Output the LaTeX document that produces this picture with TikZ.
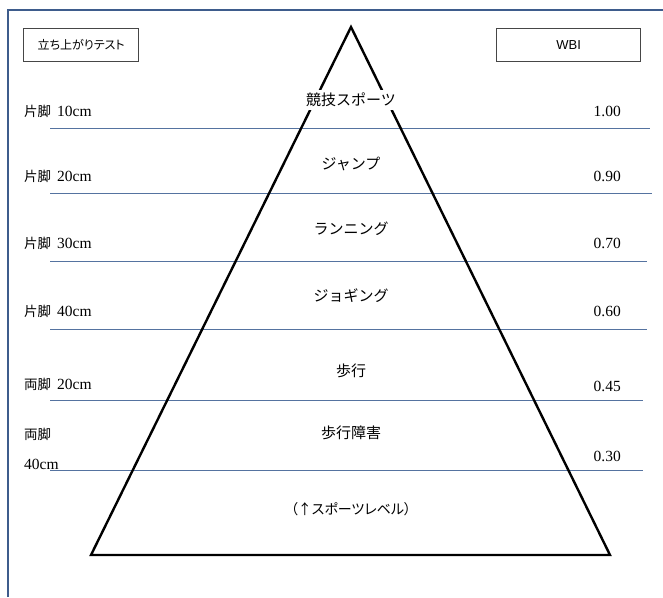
\documentclass[tikz,border=0pt]{standalone}
\usepackage{fontspec}
\setmainfont{Liberation Serif}
\newfontfamily\jp{Noto Sans CJK JP}
\newfontfamily\jpp[RawFeature=+palt]{Noto Sans CJK JP}
\newfontfamily\sansf{Liberation Sans}
\definecolor{frameblue}{RGB}{62,92,140}
\definecolor{lineblue}{RGB}{85,115,160}
\definecolor{boxgray}{RGB}{70,70,70}
\begin{document}
\begin{tikzpicture}[x=1pt,y=-1pt,
  frameline/.style={draw=frameblue,line width=2pt},
  sepline/.style={draw=lineblue,line width=0.8pt},
  tri/.style={draw=black,line width=2.4pt,line join=miter},
  hdrbox/.style={draw=boxgray,line width=1.3pt,minimum height=33pt,inner sep=0pt},
  level/.style={fill=white,inner sep=3pt,font=\jp\fontsize{15}{17}\selectfont},
  side/.style={anchor=west,inner sep=0pt,font=\jp\fontsize{13.5}{15}\selectfont},
  cmtext/.style={anchor=west,inner sep=0pt,font=\fontsize{15.5}{17}\selectfont},
  valtext/.style={anchor=east,inner sep=0pt,font=\fontsize{15.5}{17}\selectfont}]
\useasboundingbox (0,0) rectangle (663,597);
% outer frame
\draw[frameline] (8,597) -- (8,10) -- (663,10);
% header boxes
\node[hdrbox,minimum width=115pt,anchor=north west,font=\jpp\fontsize{12}{14}\selectfont] (lbox) at (23,28) {立ち上がりテスト};
\node[hdrbox,minimum width=144pt,anchor=north west,font=\sansf\fontsize{13}{15}\selectfont] (rbox) at (496,28) {WBI};
% separator lines
\foreach \y/\r [count=\i] in {128/650,193/652,261/647,329/647,400/643,470/643}{
  \coordinate (sl\i) at (50,\y);
  \coordinate (sr\i) at (\r,\y);
  \draw[sepline] (sl\i) -- (sr\i);
}
% pyramid
\coordinate (apex) at (351,27);
\coordinate (bl) at (91,555);
\coordinate (br) at (610,555);
\draw[tri] (apex) -- (bl) -- (br) -- cycle;
% levels
\node[level] (l1) at (351,100) {競技スポーツ};
\node[level] (l2) at (351,164) {ジャンプ};
\node[level] (l3) at (351,229) {ランニング};
\node[level] (l4) at (351,296) {ジョギング};
\node[level] (l5) at (351,371) {歩行};
\node[level] (l6) at (351,433) {歩行障害};
\node[level,font=\jpp\fontsize{14}{16}\selectfont] (l7) at (351,509) {（↑スポーツレベル）};
% left labels
\node[side] (a1) at (24,111) {片脚};
\node[cmtext] (b1) at (57,111) {10cm};
\node[side] (a2) at (24,176) {片脚};
\node[cmtext] (b2) at (57,176) {20cm};
\node[side] (a3) at (24,243) {片脚};
\node[cmtext] (b3) at (57,243) {30cm};
\node[side] (a4) at (24,311) {片脚};
\node[cmtext] (b4) at (57,311) {40cm};
\node[side] (a5) at (24,384) {両脚};
\node[cmtext] (b5) at (57,384) {20cm};
\node[side] (a6) at (24,434) {両脚};
\node[cmtext] (b6) at (24,464) {40cm};
% right values
\node[valtext] (v1) at (621,111) {1.00};
\node[valtext] (v2) at (621,176) {0.90};
\node[valtext] (v3) at (621,243) {0.70};
\node[valtext] (v4) at (621,311) {0.60};
\node[valtext] (v5) at (621,386) {0.45};
\node[valtext] (v6) at (621,456) {0.30};
\end{tikzpicture}
\end{document}
